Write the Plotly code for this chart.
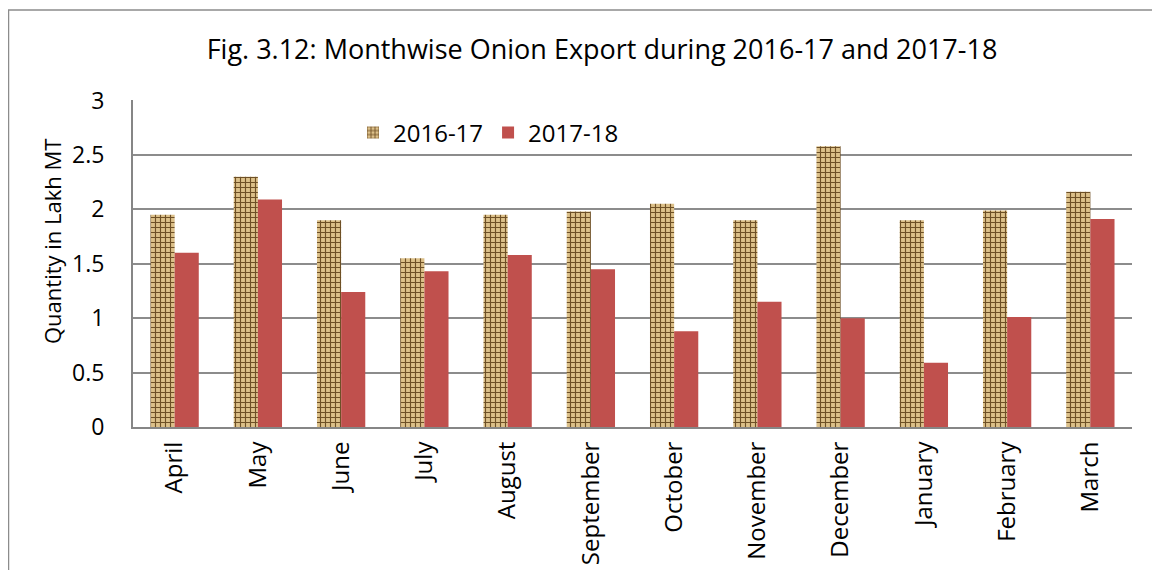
import plotly.graph_objects as go

months = ["April", "May", "June", "July", "August", "September", "October",
          "November", "December", "January", "February", "March"]
exp_2016_17 = [1.95, 2.30, 1.90, 1.55, 1.95, 1.98, 2.05, 1.90, 2.58, 1.90, 1.99, 2.16]
exp_2017_18 = [1.60, 2.09, 1.24, 1.43, 1.58, 1.45, 0.88, 1.15, 1.00, 0.59, 1.01, 1.91]
series_names = ["2016-17", "2017-18"]
y_ticks = [0, 0.5, 1, 1.5, 2, 2.5, 3]
y_tick_text = ["0", "0.5", "1", "1.5", "2", "2.5", "3"]
y_title = "Quantity in Lakh MT"
chart_title = "Fig. 3.12: Monthwise Onion Export during 2016-17 and 2017-18"

FONT = "Open Sans"

fig = go.Figure()
fig.add_trace(go.Bar(
    x=months, y=exp_2016_17, name=series_names[0],
    marker=dict(
        color="#d9bb80",
        line=dict(width=0),
        pattern=dict(shape="+", bgcolor="#dcc089", fgcolor="#6e5026",
                     size=5, solidity=0.4, fillmode="replace"),
    ),
))
fig.add_trace(go.Bar(
    x=months, y=exp_2017_18, name=series_names[1],
    marker=dict(color="#c0504d", line=dict(width=0)),
))

# page has an 8px body margin; target plot area on page: x 133..1132, y 100..427
OFF = 8
W, H = 1160 - OFF, 570 - OFF
L, T = 133 - OFF, 100 - OFF
R, B = W - (1132 - OFF), H - (427 - OFF)
pw, ph = W - L - R, H - T - B

def px(x):
    return (x - OFF - L) / pw

def py(y):
    return (H - B - (y - OFF)) / ph

fig.update_layout(
    width=W, height=H,
    margin=dict(l=L, r=R, t=T, b=B, pad=0, autoexpand=False),
    paper_bgcolor="white", plot_bgcolor="white",
    barmode="group", bargap=0.42, bargroupgap=0,
    font=dict(family=FONT, size=23, color="black"),
    title=dict(text=chart_title,
               x=(602 - OFF) / W, xanchor="center", y=1 - (50 - OFF) / H, yanchor="middle",
               font=dict(family=FONT, size=27, color="black")),
    legend=dict(orientation="h", x=px(353), xanchor="left",
                y=py(133), yanchor="middle",
                font=dict(family=FONT, size=24), bgcolor="rgba(0,0,0,0)",
                itemwidth=30, tracegroupgap=0),
    showlegend=True,
    shapes=[dict(type="rect", xref="paper", yref="paper",
                 x0=px(8.5), x1=px(1185),
                 y0=py(600), y1=py(10),
                 line=dict(color="#8c8c8c", width=1.5), fillcolor="rgba(0,0,0,0)",
                 layer="below")],
    annotations=[dict(text=y_title, textangle=-90, xref="paper", yref="paper",
                      x=px(52), y=py(242), xanchor="center", yanchor="middle",
                      showarrow=False, font=dict(family=FONT, size=22, color="black"))],
)
fig.update_xaxes(
    showline=True, linecolor="#868686", linewidth=2, automargin=False,
    tickangle=-90, ticks="", ticklabelstandoff=3,
    tickfont=dict(family=FONT, size=24), showgrid=False,
)
fig.update_yaxes(
    range=[0, 3.004], tickvals=y_ticks, ticktext=y_tick_text, automargin=False,
    showline=True, linecolor="#868686", linewidth=2,
    showgrid=True, gridcolor="#8c8c8c", gridwidth=2,
    ticks="", ticklabelstandoff=22,
    tickfont=dict(family=FONT, size=23), zeroline=False,
)

fig.write_html("out.html")
